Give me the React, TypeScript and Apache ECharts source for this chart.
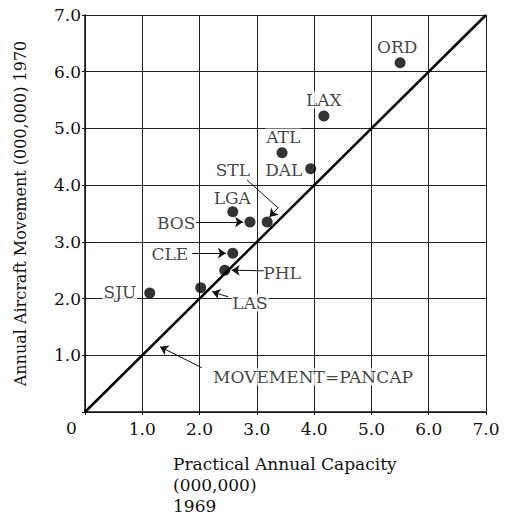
import React, { useEffect, useRef } from "react";
import * as echarts from "echarts";

// Airports: practical annual capacity 1969 (x) vs annual aircraft movement 1970 (y), in millions
const airports = ["ORD", "LAX", "ATL", "DAL", "STL", "LGA", "BOS", "CLE", "PHL", "LAS", "SJU"];
const capacity1969 = [5.5, 4.17, 3.44, 3.94, 3.18, 2.58, 2.88, 2.58, 2.44, 2.02, 1.13];
const movement1970 = [6.16, 5.22, 4.57, 4.29, 3.35, 3.53, 3.35, 2.8, 2.5, 2.19, 2.1];

const tickValues = [0, 1, 2, 3, 4, 5, 6, 7];
const refLine = [
  [0, 0],
  [7, 7],
];

// annotation label anchors in data space
const labelText = ["ORD", "LAX", "ATL", "DAL", "STL", "LGA", "BOS", "CLE", "PHL", "LAS", "SJU", "MOVEMENT=PANCAP"];
const labelX = [5.45, 4.17, 3.46, 3.47, 2.58, 2.57, 1.59, 1.48, 3.44, 2.88, 0.61, 3.98];
const labelY = [6.44, 5.5, 4.85, 4.27, 4.27, 3.77, 3.33, 2.79, 2.45, 1.92, 2.12, 0.62];

// leader lines: [x1, y1, x2, y2, arrow?]
const leaders = [
  [1.94, 3.35, 2.76, 3.35, 1], // BOS
  [1.87, 2.8, 2.46, 2.8, 1], // CLE
  [3.12, 2.49, 2.56, 2.5, 1], // PHL
  [2.5, 2.03, 2.22, 2.12, 1], // LAS
  [2.83, 4.09, 3.37, 3.6, 0], // STL part 1
  [3.37, 3.6, 3.22, 3.44, 1], // STL part 2
  [2.04, 0.78, 1.31, 1.15, 1], // MOVEMENT=PANCAP
];

const FONT = "DejaVu Serif";

export default function App() {
  const ref = useRef<HTMLDivElement>(null);
  useEffect(() => {
    if (!ref.current) return;
    const chart = echarts.init(ref.current, undefined, { renderer: "svg" });
    const axisCommon = {
      type: "value" as const,
      min: 0,
      max: 7,
      interval: 1,
      axisLine: { show: true, lineStyle: { color: "#111", width: 1.5 } },
      axisTick: { show: true, length: 3, lineStyle: { color: "#111" } },
      splitLine: { show: true, lineStyle: { color: "#222", width: 1 } },
    };
    chart.setOption({
      animation: false,
      backgroundColor: "#fff",
      grid: { left: 85, right: 21, top: 15, bottom: 102 },
      xAxis: {
        ...axisCommon,
        axisLabel: {
          margin: 8,
          color: "#111",
          fontFamily: FONT,
          fontSize: 17,
          formatter: (v: number) => (v === 0 ? "" : v.toFixed(1)),
        },
      },
      yAxis: {
        ...axisCommon,
        name: "Annual Aircraft Movement (000,000) 1970",
        nameLocation: "middle",
        nameGap: 57,
        nameRotate: 90,
        nameTextStyle: { color: "#111", fontFamily: FONT, fontSize: 16 },
        axisLabel: {
          margin: 4,
          color: "#111",
          fontFamily: FONT,
          fontSize: 17,
          formatter: (v: number) => (v === 0 ? "" : v.toFixed(1)),
        },
      },
      graphic: [
        {
          type: "text",
          left: 66,
          top: 419,
          style: { text: "0", fill: "#111", font: `17px "${FONT}"` },
        },
        {
          type: "text",
          left: 173,
          top: 453,
          style: {
            text: "Practical Annual Capacity\n(000,000)\n1969",
            fill: "#111",
            font: `17px "${FONT}"`,
            lineHeight: 21,
          },
        },
      ],
      series: [
        {
          type: "line",
          data: refLine,
          symbol: "none",
          lineStyle: { color: "#000", width: 2.5 },
          silent: true,
          z: 3,
        },
        {
          type: "scatter",
          data: capacity1969.map((x, i) => [x, movement1970[i], airports[i]]),
          symbolSize: 11,
          itemStyle: { color: "#000" },
          z: 5,
        },
        {
          type: "scatter",
          data: labelText.map((t, i) => ({ value: [labelX[i], labelY[i]], name: t })),
          symbolSize: 0,
          silent: true,
          z: 4,
          label: {
            show: true,
            position: "inside",
            formatter: (p: any) => p.name,
            color: "#111",
            fontFamily: FONT,
            fontSize: 17,
            backgroundColor: "#fff",
            padding: [0, 1],
          },
          markLine: {
            silent: true,
            animation: false,
            label: { show: false },
            lineStyle: { color: "#111", width: 1, type: "solid" },
            symbolSize: 8,
            data: leaders.map((l) => [
              { coord: [l[0], l[1]], symbol: "none" },
              { coord: [l[2], l[3]], symbol: l[4] ? "arrow" : "none" },
            ]),
          },
        },
      ],
    });
    return () => chart.dispose();
  }, []);
  return <div ref={ref} style={{ width: 507, height: 514, marginLeft: -8, marginTop: -8 }} />;
}
